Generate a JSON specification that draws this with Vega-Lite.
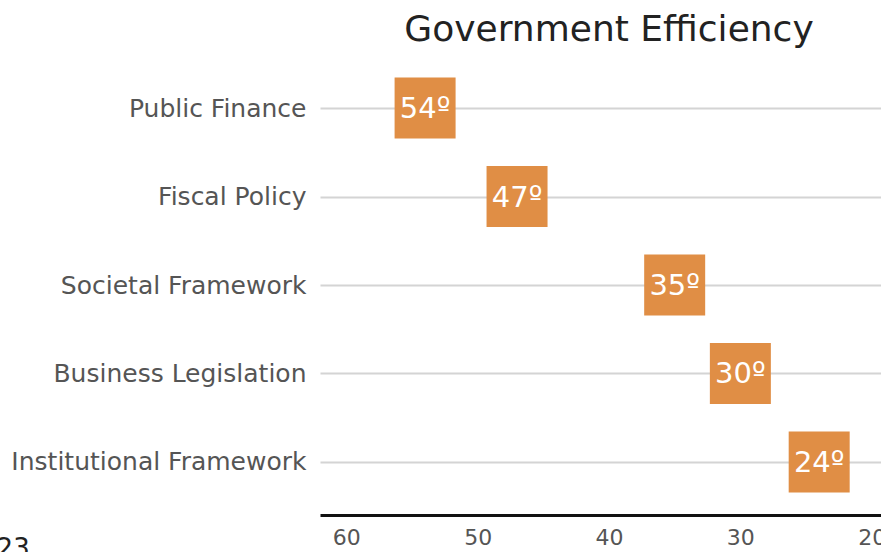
{
  "$schema": "https://vega.github.io/schema/vega-lite/v6.json",
  "autosize": {"type": "none"},
  "width": 578,
  "height": 460,
  "padding": {"left": 320, "top": 55, "right": 0, "bottom": 40},
  "background": "white",
  "title": {
    "text": "Government Efficiency",
    "fontSize": 36,
    "font": "DejaVu Sans",
    "fontWeight": "normal",
    "color": "#222222",
    "anchor": "middle",
    "offset": 6
  },
  "data": {
    "values": [
      {"pillar": "Public Finance", "rank": 54, "label": "54º"},
      {"pillar": "Fiscal Policy", "rank": 47, "label": "47º"},
      {"pillar": "Societal Framework", "rank": 35, "label": "35º"},
      {"pillar": "Business Legislation", "rank": 30, "label": "30º"},
      {"pillar": "Institutional Framework", "rank": 24, "label": "24º"}
    ]
  },
  "config": {
    "view": {"stroke": null},
    "font": "DejaVu Sans"
  },
  "encoding": {
    "y": {
      "field": "pillar",
      "type": "nominal",
      "sort": null,
      "scale": {"type": "point", "padding": 0.6},
      "axis": {
        "title": null,
        "domain": false,
        "ticks": false,
        "grid": true,
        "gridColor": "#d4d4d4",
        "gridWidth": 2,
        "labelFontSize": 25,
        "labelColor": "#555555",
        "labelPadding": 14,
        "labelLimit": 400,
        "labelFont": "DejaVu Sans"
      }
    },
    "x": {
      "field": "rank",
      "type": "quantitative",
      "scale": {"domain": [18, 62], "reverse": true, "nice": false, "zero": false},
      "axis": {
        "values": [60, 50, 40, 30, 20],
        "grid": false,
        "ticks": false,
        "domainColor": "#111111",
        "domainWidth": 3,
        "labelFontSize": 22,
        "labelColor": "#555555",
        "labelPadding": 12,
        "labelFont": "DejaVu Sans",
        "title": "2023",
        "titleFontSize": 26,
        "titleFontWeight": "normal",
        "titleColor": "#222222",
        "titleAnchor": "start",
        "titleAlign": "left",
        "titleX": -357,
        "titleY": 20,
        "titleBaseline": "top"
      }
    }
  },
  "layer": [
    {
      "mark": {"type": "square", "size": 3721, "color": "#E08E45", "opacity": 1, "filled": true}
    },
    {
      "mark": {"type": "text", "color": "white", "fontSize": 29, "font": "DejaVu Sans", "baseline": "middle", "align": "center", "dy": 1},
      "encoding": {"text": {"field": "label", "type": "nominal"}}
    }
  ]
}
